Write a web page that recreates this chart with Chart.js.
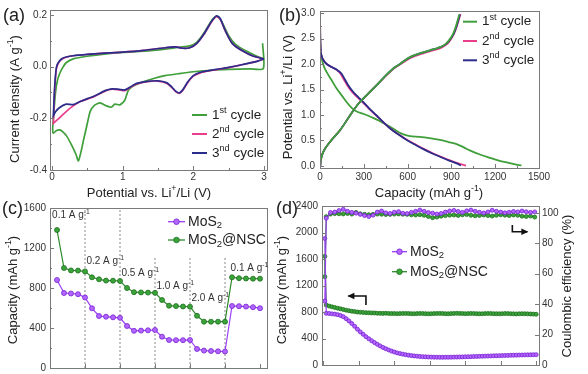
<!DOCTYPE html>
<html>
<head>
<meta charset="utf-8">
<title>MoS2 / MoS2@NSC electrochemistry</title>
<script src="https://cdn.jsdelivr.net/npm/chart.js@4.4.1/dist/chart.umd.min.js"></script>
<style>
  html, body { margin: 0; padding: 0; background: #fff; overflow: hidden; }
  #fig { position: relative; width: 588px; height: 374px; overflow: hidden; background: #fff; }
  #fig canvas { position: absolute; left: 0; top: 0; }
  .tag { position: absolute; font: 18px 'Liberation Sans', Arial, sans-serif; line-height: 18px; color: #222; }
</style>
</head>
<body>
<div id="fig">
  <canvas id="chartA" width="588" height="420"></canvas>
  <canvas id="chartB" width="588" height="420"></canvas>
  <canvas id="chartC" width="588" height="420"></canvas>
  <canvas id="chartD" width="588" height="420"></canvas>
  <div class="tag" style="left:3px;top:6px">(a)</div>
  <div class="tag" style="left:279px;top:6px">(b)</div>
  <div class="tag" style="left:2px;top:199px">(c)</div>
  <div class="tag" style="left:276px;top:199px">(d)</div>
</div>
<script>
// ---------- (a) CV loops: potential (V) and current density (A g-1), cathodic then anodic
const cvPotential1 = [2.98, 2.99, 2.8, 2.5, 2.2, 2.0, 1.8, 1.6, 1.45, 1.3, 1.15, 1.08, 1.03, 0.96, 0.89, 0.84, 0.77, 0.68, 0.6, 0.54, 0.5, 0.45, 0.41, 0.373, 0.34, 0.28, 0.21, 0.15, 0.11, 0.06, 0.02,
  0.01, 0.02, 0.05, 0.08, 0.12, 0.16, 0.2, 0.3, 0.5, 0.8, 1.0, 1.3, 1.6, 1.8, 1.95, 2.05, 2.15, 2.25, 2.3, 2.34, 2.4, 2.5, 2.6, 2.75, 2.9, 3.0];
const cvCurrent1 = [0.09, -0.008, -0.009, -0.011, -0.015, -0.02, -0.027, -0.035, -0.045, -0.058, -0.075, -0.092, -0.13, -0.148, -0.145, -0.157, -0.152, -0.14, -0.15, -0.174, -0.22, -0.28, -0.33, -0.365, -0.34, -0.305, -0.27, -0.252, -0.245, -0.248, -0.258,
  -0.24, -0.2, -0.1, -0.05, -0.02, 0.0, 0.015, 0.03, 0.04, 0.05, 0.055, 0.06, 0.068, 0.075, 0.08, 0.095, 0.13, 0.175, 0.19, 0.195, 0.175, 0.12, 0.085, 0.06, 0.04, 0.03];
const cvPotential23 = [3.0, 2.9, 2.7, 2.5, 2.3, 2.1, 2.0, 1.92, 1.85, 1.8, 1.75, 1.7, 1.62, 1.5, 1.35, 1.2, 1.1, 1.03, 0.95, 0.85, 0.75, 0.6, 0.5, 0.4, 0.3, 0.2, 0.1, 0.05, 0.02,
  0.02, 0.03, 0.045, 0.065, 0.1, 0.15, 0.2, 0.3, 0.5, 0.8, 1.0, 1.3, 1.6, 1.75, 1.85, 1.95, 2.05, 2.15, 2.25, 2.3, 2.33, 2.38, 2.45, 2.55, 2.7, 2.85, 3.0];
const cvCurrent2 = [0.03, 0.02, 0.008, -0.004, -0.013, -0.024, -0.037, -0.062, -0.092, -0.104, -0.097, -0.082, -0.064, -0.056, -0.058, -0.067, -0.082, -0.093, -0.09, -0.087, -0.095, -0.116, -0.126, -0.135, -0.152, -0.174, -0.2, -0.212, -0.22,
  -0.22, -0.14, -0.06, -0.005, 0.018, 0.03, 0.036, 0.042, 0.047, 0.053, 0.056, 0.063, 0.073, 0.076, 0.071, 0.073, 0.09, 0.125, 0.17, 0.188, 0.193, 0.183, 0.14, 0.09, 0.06, 0.04, 0.03];
const cvCurrent3 = [0.03, 0.02, 0.008, -0.003, -0.012, -0.022, -0.035, -0.06, -0.09, -0.102, -0.095, -0.08, -0.062, -0.055, -0.057, -0.065, -0.08, -0.09, -0.088, -0.086, -0.093, -0.114, -0.124, -0.135, -0.147, -0.145, -0.16, -0.175, -0.19,
  -0.19, -0.12, -0.05, 0.0, 0.02, 0.032, 0.037, 0.042, 0.047, 0.053, 0.056, 0.063, 0.073, 0.076, 0.071, 0.073, 0.09, 0.126, 0.172, 0.19, 0.196, 0.186, 0.14, 0.09, 0.06, 0.04, 0.03];
const cvTicksX = [0, 1, 2, 3];
const cvTicksY = [-0.4, -0.2, 0.0, 0.2];

// ---------- (b) discharge / charge profiles: capacity (mAh g-1) and potential (V)
const gcdCapDis1 = [0, 2, 5, 10, 18, 30, 46, 80, 114, 150, 183, 217, 251, 300, 350, 411, 460, 502, 540, 571, 616, 680, 750, 822, 880, 936, 982, 1030, 1100, 1164, 1220, 1278, 1330, 1380];
const gcdVDis1 = [2.6, 2.42, 2.28, 2.15, 2.03, 1.93, 1.84, 1.68, 1.52, 1.38, 1.25, 1.14, 1.07, 1.02, 0.96, 0.88, 0.8, 0.73, 0.66, 0.62, 0.585, 0.57, 0.545, 0.51, 0.47, 0.43, 0.37, 0.3, 0.22, 0.16, 0.11, 0.07, 0.035, 0.01];
const gcdCapDis2 = [0, 2, 5, 11, 25, 46, 80, 110, 140, 162, 183, 220, 255, 292, 336, 385, 430, 479, 532, 598, 655, 714, 772, 830, 890, 948, 1000];
const gcdVDis2 = [2.95, 2.5, 2.26, 2.16, 2.07, 2.0, 1.94, 1.89, 1.81, 1.7, 1.6, 1.45, 1.35, 1.25, 1.12, 0.99, 0.87, 0.74, 0.63, 0.51, 0.42, 0.33, 0.25, 0.18, 0.11, 0.05, 0.005];
const gcdCapDis3 = [0, 2, 5, 11, 25, 46, 80, 114, 148, 170, 190, 228, 262, 297, 340, 388, 430, 479, 530, 594, 650, 708, 765, 822, 880, 936, 965];
const gcdVDis3 = [2.95, 2.5, 2.26, 2.16, 2.07, 2.0, 1.94, 1.89, 1.81, 1.7, 1.6, 1.45, 1.35, 1.25, 1.12, 0.99, 0.87, 0.74, 0.63, 0.51, 0.42, 0.33, 0.25, 0.18, 0.11, 0.05, 0.01];
const gcdCapChg1 = [2, 5, 11, 23, 68, 137, 217, 263, 330, 400, 460, 510, 548, 580, 620, 708, 780, 822, 855, 879, 900, 913, 926, 940, 954];
const gcdVChg1 = [0.0, 0.1, 0.18, 0.28, 0.47, 0.70, 1.04, 1.22, 1.42, 1.62, 1.8, 1.93, 2.0, 2.07, 2.14, 2.23, 2.29, 2.33, 2.38, 2.45, 2.53, 2.6, 2.7, 2.83, 2.97];
const gcdCapChg2 = [2, 5, 11, 23, 68, 137, 217, 263, 330, 400, 460, 510, 548, 580, 620, 708, 780, 825, 860, 885, 906, 920, 934, 948, 962];
const gcdVChg2 = [0.0, 0.1, 0.18, 0.28, 0.47, 0.70, 1.04, 1.22, 1.42, 1.62, 1.79, 1.92, 1.99, 2.05, 2.12, 2.21, 2.27, 2.31, 2.37, 2.44, 2.53, 2.61, 2.71, 2.84, 2.98];
const gcdCapChg3 = [2, 5, 11, 23, 68, 137, 217, 263, 330, 400, 460, 510, 548, 580, 620, 708, 780, 823, 857, 882, 903, 917, 930, 944, 958];
const gcdVChg3 = [0.0, 0.1, 0.18, 0.28, 0.47, 0.70, 1.04, 1.22, 1.42, 1.62, 1.8, 1.93, 2.0, 2.07, 2.14, 2.23, 2.29, 2.33, 2.38, 2.45, 2.53, 2.6, 2.7, 2.83, 2.97];
const gcdTicksX = [0, 300, 600, 900, 1200, 1500];
const gcdTicksY = [0, 0.5, 1.0, 1.5, 2.0, 2.5, 3.0];

// ---------- (c) rate capability
const rateCycles = [1, 2, 3, 4, 5, 6, 7, 8, 9, 10, 11, 12, 13, 14, 15, 16, 17, 18, 19, 20, 21, 22, 23, 24, 25, 26, 27, 28, 29, 30];
const mos2Rate = [880, 750, 745, 738, 705, 597, 520, 513, 507, 502, 420, 372, 374, 377, 380, 313, 280, 278, 278, 280, 190, 174, 170, 167, 165, 620, 618, 614, 608, 598];
const nscRate = [1380, 1000, 976, 974, 966, 907, 887, 874, 873, 870, 800, 758, 756, 754, 752, 680, 623, 619, 615, 613, 522, 463, 463, 463, 463, 907, 898, 895, 893, 893];
const rateLabels = ['0.1 A g^-1^', '0.2 A g^-1^', '0.5 A g^-1^', '1.0 A g^-1^', '2.0 A g^-1^', '0.1 A g^-1^'];
const rateBreaks = [5, 10, 15, 20, 25];
const rateTicksX = [0, 5, 10, 15, 20, 25, 30];
const rateTicksY = [0, 400, 800, 1200, 1600];

// ---------- (d) long cycling: capacity (left) and coulombic efficiency (right)
const capCycles = [1, 2, 4, 6, 8, 10, 12, 14, 16, 18, 20, 22, 24, 26, 28, 30, 32, 34, 36, 38, 40, 42, 44, 46, 48, 50, 52, 54, 56, 58, 60, 62, 64, 66, 68, 70, 72, 74, 76, 78,
  80, 82, 84, 86, 88, 90, 92, 94, 96, 98, 100, 102, 104, 106, 108, 110, 112, 114, 116, 118, 120, 122, 124, 126, 128, 130, 132, 134, 136, 138, 140, 142, 144, 146, 148, 150];
const mos2Cap = [1910, 780, 778, 772, 768, 760, 748, 730, 700, 665,
  626, 584, 540, 500, 463, 428, 396, 366, 338, 312,
  288, 265, 245, 227, 210, 196, 183, 172, 163, 155,
  148, 142, 137, 133, 129, 126, 123, 121, 119, 118,
  117, 116, 116, 117, 117, 118, 119, 120, 121, 122,
  124, 125, 126, 128, 129, 131, 132, 134, 135, 137,
  138, 140, 141, 142, 144, 145, 146, 148, 149, 150,
  151, 152, 153, 154, 155, 156];
const nscCap = [1640, 905, 890, 878, 868, 858, 848, 838, 828, 820,
  812, 806, 800, 796, 793, 790, 788, 786, 785, 782,
  780, 779, 781, 778, 776, 777, 775, 776, 778, 779,
  777, 775, 774, 776, 778, 777, 775, 773, 774, 776,
  778, 779, 777, 775, 774, 776, 778, 780, 779, 777,
  775, 776, 778, 777, 775, 773, 774, 776, 778, 777,
  775, 774, 773, 775, 777, 776, 774, 772, 771, 773,
  775, 774, 772, 770, 768, 766];
const ceCycles = [1, 2, 5, 8, 11, 14, 17, 20, 23, 26, 29, 32, 35, 38, 41, 44, 47, 50, 53, 56, 59, 62, 65, 68, 71, 74, 77, 80, 83, 86,
  89, 92, 95, 98, 101, 104, 107, 110, 113, 116, 119, 122, 125, 128, 131, 134, 137, 140, 143, 146, 149];
const mos2CE = [42, 96.5, 100.2, 100.5, 101.5, 102.3, 101, 100.3, 99.8, 99,
  98.2, 97.6, 98.5, 100.5, 101.2, 100, 99.6, 100.4, 100.8, 99.7,
  99.5, 100.3, 101, 101.8, 101, 100.2, 99.8, 99.2, 99.6, 100.5,
  101.2, 101.6, 100.9, 100.3, 101.3, 101.8, 101, 100.4, 99.9, 100.6,
  101.7, 101, 100.5, 100, 100.4, 100.9, 100.6, 101.2, 100.7, 100.3,
  100.6];
const nscCE = [58, 97.5, 99.2, 99.5, 99.4, 99.3, 99.6, 99.2, 100.3, 99.4,
  99, 98.8, 99, 99.2, 99.1, 98.9, 99, 99.2, 99.3, 99.1,
  99, 98.7, 98.6, 98.8, 98.4, 97.6, 96.8, 97.2, 97.8, 98.2,
  98.5, 98.6, 98.3, 98.7, 98.9, 98.4, 98.1, 98.3, 98.6, 98.2,
  97.9, 98.4, 98.7, 98.5, 98.2, 98.6, 98.4, 97.8, 97.6, 97.9,
  97.2];
const cycTicksX = [0, 25, 50, 75, 100, 125, 150];
const cycTicksY = [0, 400, 800, 1200, 1600, 2000, 2400];
const ceTicks = [0, 20, 40, 60, 80, 100];

// ---------- styling
const FONT = "'Liberation Sans', Arial, sans-serif";
const INK = '#222';
const TICK_INK = '#333';
const FRAME = '#7a7a7a';
const GREEN_A = '#3f9f3a', PINK_A = '#ea3d8c', NAVY_A = '#2b2d8a';
const PURPLE_LINE = '#9b3cf5', PURPLE_FILL = '#b066ff', PURPLE_EDGE = '#7a22d0';
const GREEN_LINE = '#2d8a2a', GREEN_FILL = '#3aa43a', GREEN_EDGE = '#1f6e1f';

// text with ^sup^ and _sub_ pieces
function richParts(str) {
  const parts = [];
  const re = /\^([^^]*)\^|_([^_]*)_|([^^_]+)/g;
  let m;
  while ((m = re.exec(str))) {
    if (m[1] !== undefined) parts.push({ t: m[1], k: 'sup' });
    else if (m[2] !== undefined) parts.push({ t: m[2], k: 'sub' });
    else parts.push({ t: m[3], k: '' });
  }
  return parts;
}
function drawRich(ctx, str, x, y, size, color, align) {
  const parts = richParts(str);
  const fontFor = k => (k ? size * 0.68 : size) + 'px ' + FONT;
  let w = 0;
  parts.forEach(p => { ctx.font = fontFor(p.k); p.w = ctx.measureText(p.t).width; w += p.w; });
  let cx = align === 'center' ? x - w / 2 : x;
  ctx.fillStyle = color;
  ctx.textBaseline = 'middle';
  ctx.textAlign = 'left';
  parts.forEach(p => {
    ctx.font = fontFor(p.k);
    const dy = p.k === 'sup' ? -size * 0.33 : (p.k === 'sub' ? size * 0.28 : 0);
    ctx.fillText(p.t, cx, y + dy);
    cx += p.w;
  });
}

// box around the plot with small inward ticks
function framePlugin(marks) {
  return {
    id: 'frame',
    afterDatasetsDraw(chart) {
      const { ctx, chartArea: a } = chart;
      ctx.save();
      ctx.strokeStyle = FRAME;
      ctx.lineWidth = 1;
      ctx.strokeRect(Math.round(a.left) + 0.5, Math.round(a.top) + 0.5, Math.round(a.right - a.left), Math.round(a.bottom - a.top));
      marks.forEach(m => {
        const s = chart.scales[m.axis];
        const vals = s.ticks.map(t => t.value);
        const draw = (v, len) => {
          const p = Math.round(s.getPixelForValue(v)) + 0.5;
          ctx.beginPath();
          if (m.side === 'bottom') { ctx.moveTo(p, a.bottom); ctx.lineTo(p, a.bottom - len); }
          else if (m.side === 'left') { ctx.moveTo(a.left, p); ctx.lineTo(a.left + len, p); }
          else { ctx.moveTo(a.right, p); ctx.lineTo(a.right - len, p); }
          ctx.stroke();
        };
        vals.forEach((v, i) => {
          draw(v, 4);
          if (m.minor && i < vals.length - 1) draw((v + vals[i + 1]) / 2, 2);
        });
      });
      ctx.restore();
    }
  };
}

// legend drawn inside the plot area
function legendPlugin(c) {
  return {
    id: 'insideLegend',
    afterDraw(chart) {
      const { ctx, chartArea: a } = chart;
      c.items.forEach((idx, i) => {
        const ds = chart.data.datasets[idx];
        const x0 = a.left + c.x, y = a.top + c.y + i * c.gap;
        ctx.save();
        ctx.strokeStyle = ds.borderColor;
        ctx.lineWidth = c.lineWidth;
        ctx.beginPath(); ctx.moveTo(x0, y); ctx.lineTo(x0 + c.len, y); ctx.stroke();
        if (c.marker) {
          ctx.beginPath(); ctx.arc(x0 + c.len / 2, y, c.marker, 0, Math.PI * 2);
          ctx.fillStyle = ds.pointBackgroundColor; ctx.fill();
          ctx.lineWidth = 0.8; ctx.strokeStyle = ds.pointBorderColor; ctx.stroke();
        }
        drawRich(ctx, ds.label, x0 + c.len + c.pad, y, c.size, INK, 'left');
        ctx.restore();
      });
    }
  };
}

// axis titles (rich text, rotated where needed)
function titlesPlugin(items) {
  return {
    id: 'axisTitles',
    afterDraw(chart) {
      const ctx = chart.ctx;
      items.forEach(t => {
        ctx.save();
        ctx.translate(t.x, t.y);
        if (t.rot) ctx.rotate(t.rot * Math.PI / 180);
        drawRich(ctx, t.text, 0, 0, 13, INK, 'center');
        ctx.restore();
      });
    }
  };
}

// text notes and arrows placed in data units
function notesPlugin(c) {
  return {
    id: 'notes',
    afterDatasetsDraw(chart) {
      const ctx = chart.ctx;
      const sx = chart.scales.x;
      (c.texts || []).forEach(t => {
        ctx.save();
        drawRich(ctx, t.text, sx.getPixelForValue(t.x), chart.scales.y.getPixelForValue(t.y), 10, TICK_INK, 'left');
        ctx.restore();
      });
      (c.arrows || []).forEach(ar => {
        const sy = chart.scales[ar.yAxis];
        const pts = ar.x.map((v, i) => [sx.getPixelForValue(v), sy.getPixelForValue(ar.y[i])]);
        ctx.save();
        ctx.strokeStyle = '#111'; ctx.fillStyle = '#111'; ctx.lineWidth = 1.6;
        ctx.beginPath();
        pts.forEach((p, i) => i ? ctx.lineTo(p[0], p[1]) : ctx.moveTo(p[0], p[1]));
        ctx.stroke();
        const [x1, y1] = pts[pts.length - 1], [x0, y0] = pts[pts.length - 2];
        ctx.translate(x1, y1);
        ctx.rotate(Math.atan2(y1 - y0, x1 - x0));
        ctx.beginPath(); ctx.moveTo(1, 0); ctx.lineTo(-6, -3.2); ctx.lineTo(-6, 3.2); ctx.closePath(); ctx.fill();
        ctx.restore();
      });
    }
  };
}

function axis(pos, min, max, tickVals, size, pad, fmt, show) {
  return {
    type: 'linear', position: pos, min: min, max: max,
    grid: { display: false, drawTicks: false },
    border: { display: false },
    ticks: {
      display: show !== false, padding: pad, color: TICK_INK, maxRotation: 0, autoSkip: false,
      font: { family: FONT, size: 10 },
      callback: fmt || (v => String(v))
    },
    afterBuildTicks: s => { s.ticks = tickVals.map(v => ({ value: v })); },
    afterFit: s => { if (pos === 'bottom') s.height = size; else s.width = size; }
  };
}

function baseOptions(padding, scales) {
  return {
    responsive: false, animation: false, devicePixelRatio: 1, events: [],
    layout: { padding: padding },
    scales: scales,
    plugins: { legend: { display: false }, tooltip: { enabled: false } }
  };
}

function curve(label, xs, ys, color, order, width, mode) {
  return {
    label: label, data: xs.map((x, i) => ({ x: x, y: ys[i] })),
    showLine: true, borderColor: color, backgroundColor: color, borderWidth: width,
    pointRadius: 0, order: order,
    tension: mode ? 0 : 0.22, cubicInterpolationMode: mode || 'default'
  };
}

function markers(label, xs, ys, line, fill, edge, r, order, yAxisID) {
  return {
    label: label, data: xs.map((x, i) => ({ x: x, y: ys[i] })),
    showLine: true, borderColor: line, borderWidth: 1.2,
    pointRadius: r, pointBackgroundColor: fill, pointBorderColor: edge, pointBorderWidth: 0.8,
    order: order, yAxisID: yAxisID || 'y'
  };
}

// ---------- (a)
new Chart(document.getElementById('chartA'), {
  type: 'scatter',
  data: { datasets: [
    curve('1^st^ cycle', cvPotential1, cvCurrent1, GREEN_A, 3, 1.7),
    curve('2^nd^ cycle', cvPotential23, cvCurrent2, PINK_A, 2, 1.7),
    curve('3^nd^ cycle', cvPotential23, cvCurrent3, NAVY_A, 1, 1.7)
  ] },
  options: baseOptions({ left: 0, top: 10, right: 321, bottom: 215 }, {
    x: axis('bottom', -0.028, 3.042, cvTicksX, 35, 1),
    y: axis('left', -0.4, 0.219, cvTicksY, 50, 3, v => v.toFixed(1))
  }),
  plugins: [
    framePlugin([{ axis: 'x', side: 'bottom', minor: true }, { axis: 'y', side: 'left', minor: true }]),
    legendPlugin({ items: [0, 1, 2], x: 142, y: 105, gap: 19, len: 15, pad: 5, size: 13.5, lineWidth: 2 }),
    titlesPlugin([
      { text: 'Current density (A g^-1^)', x: 15, y: 99, rot: -90 },
      { text: 'Potential vs. Li^+^/Li (V)', x: 149, y: 193 }
    ])
  ]
});

// ---------- (b)
new Chart(document.getElementById('chartB'), {
  type: 'scatter',
  data: { datasets: [
    curve('1^st^ cycle', gcdCapDis1, gcdVDis1, GREEN_A, 5, 1.8, 'monotone'),
    curve('2^nd^ cycle', gcdCapDis2, gcdVDis2, PINK_A, 4, 1.8, 'monotone'),
    curve('3^nd^ cycle', gcdCapDis3, gcdVDis3, NAVY_A, 3, 1.8, 'monotone'),
    curve('1^st^ cycle', gcdCapChg1, gcdVChg1, GREEN_A, 0, 1.8, 'monotone'),
    curve('2^nd^ cycle', gcdCapChg2, gcdVChg2, PINK_A, 2, 1.8, 'monotone'),
    curve('3^nd^ cycle', gcdCapChg3, gcdVChg3, NAVY_A, 1, 1.8, 'monotone')
  ] },
  options: baseOptions({ left: 278, top: 10, right: 49, bottom: 215 }, {
    x: axis('bottom', 0, 1500, gcdTicksX, 37, 3),
    y: axis('left', -0.04, 3.04, gcdTicksY, 42, 5, v => v.toFixed(1))
  }),
  plugins: [
    framePlugin([{ axis: 'x', side: 'bottom', minor: true }, { axis: 'y', side: 'left', minor: true }]),
    legendPlugin({ items: [0, 1, 2], x: 143, y: 10.7, gap: 19.3, len: 14, pad: 5, size: 13.5, lineWidth: 2 }),
    titlesPlugin([
      { text: 'Potential vs. Li^+^/Li (V)', x: 288, y: 97, rot: -90 },
      { text: 'Capacity (mAh g^-1^)', x: 429, y: 193 }
    ])
  ]
});

// ---------- (c)
const rateDatasets = [
  markers('MoS_2_', rateCycles, mos2Rate, PURPLE_LINE, PURPLE_FILL, PURPLE_EDGE, 2.5, 2),
  markers('MoS_2_@NSC', rateCycles, nscRate, GREEN_LINE, GREEN_FILL, GREEN_EDGE, 2.5, 1)
];
rateBreaks.forEach((b, i) => {
  rateDatasets.push({
    label: 'step', data: [{ x: b, y: 0 }, { x: b, y: i < 2 ? 1600 : 1100 }],
    showLine: true, borderColor: '#8a8a8a', borderWidth: 1, borderDash: [2, 2], pointRadius: 0, order: 5
  });
});
new Chart(document.getElementById('chartC'), {
  type: 'scatter',
  data: { datasets: rateDatasets },
  options: baseOptions({ left: 0, top: 208, right: 321, bottom: 22 }, {
    x: axis('bottom', 0, 31, rateTicksX, 30, 4, null, false),
    y: axis('left', 0, 1600, rateTicksY, 50, 4)
  }),
  plugins: [
    framePlugin([{ axis: 'x', side: 'bottom' }, { axis: 'y', side: 'left', minor: true }]),
    legendPlugin({ items: [0, 1], x: 118, y: 13.7, gap: 18.3, len: 17, pad: 3, size: 14, lineWidth: 1.3, marker: 2.8 }),
    titlesPlugin([{ text: 'Capacity (mAh g^-1^)', x: 13, y: 290, rot: -90 }]),
    notesPlugin({ texts: [
      { text: rateLabels[0], x: 0.3, y: 1530 },
      { text: rateLabels[1], x: 5.2, y: 1063 },
      { text: rateLabels[2], x: 10.2, y: 947 },
      { text: rateLabels[3], x: 15.2, y: 813 },
      { text: rateLabels[4], x: 20.2, y: 697 },
      { text: rateLabels[5], x: 25.8, y: 997 }
    ] })
  ]
});

// ---------- (d)
new Chart(document.getElementById('chartD'), {
  type: 'scatter',
  data: { datasets: [
    markers('MoS_2_', capCycles, mos2Cap, PURPLE_LINE, PURPLE_FILL, PURPLE_EDGE, 2, 3, 'y'),
    markers('MoS_2_@NSC', capCycles, nscCap, GREEN_LINE, GREEN_FILL, GREEN_EDGE, 2, 4, 'y'),
    markers('MoS_2_', ceCycles, mos2CE, PURPLE_LINE, PURPLE_FILL, PURPLE_EDGE, 2, 1, 'y2'),
    markers('MoS_2_@NSC', ceCycles, nscCE, GREEN_LINE, GREEN_FILL, GREEN_EDGE, 2, 2, 'y2')
  ] },
  options: baseOptions({ left: 274, top: 206, right: 13, bottom: 25 }, {
    x: axis('bottom', -1, 152, cycTicksX, 30, 4, null, false),
    y: axis('left', 0, 2400, cycTicksY, 48, 4),
    y2: axis('right', 0, 104.5, ceTicks, 36, 3)
  }),
  plugins: [
    framePlugin([{ axis: 'x', side: 'bottom' }, { axis: 'y', side: 'left' }, { axis: 'y2', side: 'right' }]),
    legendPlugin({ items: [0, 1], x: 70, y: 45.7, gap: 20, len: 15, pad: 3, size: 14, lineWidth: 1.3, marker: 2.8 }),
    titlesPlugin([
      { text: 'Capacity (mAh g^-1^)', x: 282, y: 290, rot: -90 },
      { text: 'Coulombic efficiency (%)', x: 567, y: 286, rot: -90 }
    ]),
    notesPlugin({ arrows: [
      { yAxis: 'y', x: [30, 30, 17.6], y: [906, 1041, 1041] },
      { yAxis: 'y2', x: [133.2, 133.2, 143.8], y: [92, 87.6, 87.6] }
    ] })
  ]
});
</script>
</body>
</html>
